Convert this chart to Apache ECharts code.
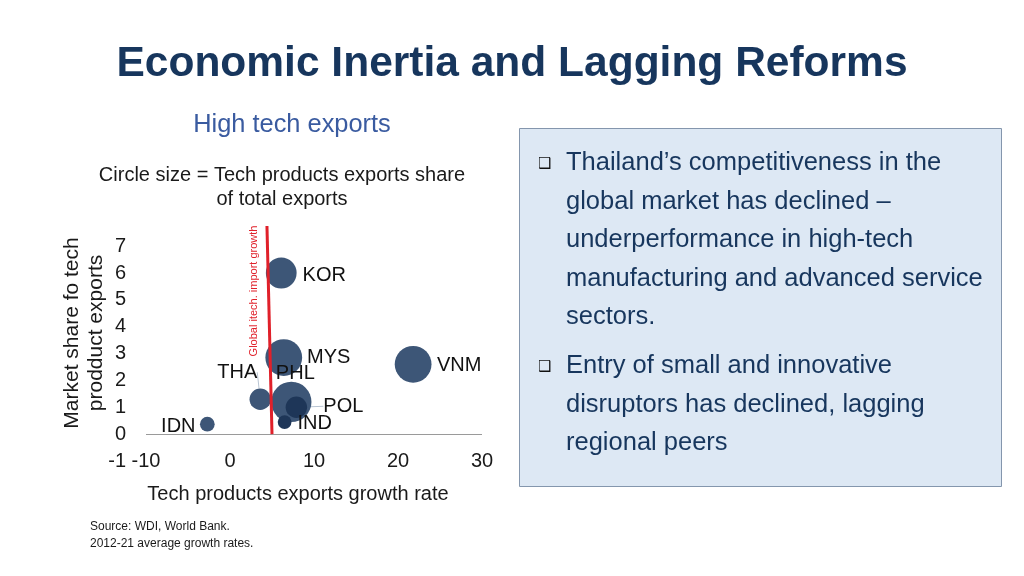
<!DOCTYPE html>
<html>
<head>
<meta charset="utf-8">
<script src="https://cdn.jsdelivr.net/npm/echarts@6/dist/echarts.min.js"></script>
<style>
html,body{margin:0;padding:0;background:#fff;}
#c{width:1024px;height:576px;}
</style>
</head>
<body>
<div id="c"></div>
<script>
// ---- data ----
const countries = ['KOR', 'MYS', 'VNM', 'THA', 'PHL', 'POL', 'IND', 'IDN'];
const growthRate = [6.1, 6.4, 21.8, 3.6, 7.3, 7.9, 6.5, -2.7];      // x: tech exports growth rate (%)
const marketShare = [6.0, 2.85, 2.6, 1.3, 1.2, 1.0, 0.45, 0.37];    // y: market share (%)
const techShare = [35, 50, 50, 17, 60, 17, 7, 8];                   // bubble: tech share of total exports (%)
const globalLine = [[4.4, 7.75], [5.0, 0]];                         // global tech import growth
const xTicks = [-10, 0, 10, 20, 30];
const yTicks = [-1, 0, 1, 2, 3, 4, 5, 6, 7];

// ---- styles (label offsets in px, colours) ----
const labelOffsets = {
  KOR: [43, 2], MYS: [45, 0], VNM: [46, 1], THA: [-23, -27],
  PHL: [4, -28], POL: [47, -1], IND: [30, 1], IDN: [-29, 2]
};
const withLine = { THA: true, PHL: true, POL: true };
const darkOnes = { POL: true, IND: true };

const bubbleData = countries.map((c, i) => ({
  name: c,
  value: [growthRate[i], marketShare[i], techShare[i]],
  itemStyle: { color: darkOnes[c] ? '#1e3658' : '#3d5677', opacity: 1 },
  labelLine: { show: !!withLine[c], lineStyle: { color: '#b8c4d2', width: 1, opacity: 1 } }
}));

const chart = echarts.init(document.getElementById('c'));
const FONT = 'Liberation Sans, Arial, sans-serif';

chart.setOption({
  animation: false,
  textStyle: { fontFamily: FONT },
  grid: { left: 146, right: 542, top: 226, bottom: 115 },
  xAxis: {
    type: 'value', min: -10, max: 30, interval: 10,
    axisLine: { show: false, onZero: false },
    axisTick: { show: false },
    splitLine: { show: false },
    axisLabel: {
      margin: -10, fontSize: 20, color: '#1a1a1a', fontFamily: FONT,
      formatter: v => xTicks.includes(v) ? String(v) : ''
    }
  },
  yAxis: {
    type: 'value', min: -1, max: 7.75, interval: 1,
    axisLine: { show: false },
    axisTick: { show: false },
    splitLine: { show: false },
    axisLabel: {
      margin: 20, fontSize: 20, color: '#1a1a1a', fontFamily: FONT,
      formatter: v => yTicks.includes(v) ? String(v) : ''
    }
  },
  series: [
    {
      type: 'scatter',
      data: bubbleData,
      symbolSize: v => 5.2 * Math.sqrt(v[2]),
      z: 2,
      itemStyle: { opacity: 1 },
      label: {
        show: true, position: 'inside', formatter: '{b}', opacity: 1,
        fontSize: 20, color: '#111111', fontFamily: FONT
      },
      labelLayout: p => {
        const o = labelOffsets[countries[p.dataIndex]];
        return { dx: o[0], dy: o[1] };
      },
      markLine: {
        silent: true, symbol: 'none', label: { show: false },
        lineStyle: { color: '#9a9a9a', width: 1, type: 'solid', opacity: 1 },
        data: [{ yAxis: 0 }]
      }
    },
    {
      type: 'line',
      data: globalLine,
      symbol: 'none',
      lineStyle: { color: '#e0202a', width: 3 },
      z: 5
    }
  ],
  graphic: [
    { type: 'text', x: 512, y: 64, style: { text: 'Economic Inertia and Lagging Reforms', font: 'bold 42.5px ' + FONT, fill: '#17365d', align: 'center', verticalAlign: 'middle' } },
    { type: 'text', x: 292, y: 125, style: { text: 'High tech exports', font: '25.4px ' + FONT, fill: '#3a5ba0', align: 'center', verticalAlign: 'middle' } },
    { type: 'text', x: 282, y: 163, style: { text: 'Circle size = Tech products exports share\nof total exports', font: '20px ' + FONT, fill: '#1a1a1a', align: 'center', verticalAlign: 'top', lineHeight: 24 } },
    { type: 'text', x: 84, y: 333, rotation: Math.PI / 2, style: { text: 'Market share fo tech\nprodduct exports', font: '21px ' + FONT, fill: '#1a1a1a', align: 'center', verticalAlign: 'middle', lineHeight: 24 } },
    { type: 'text', x: 254, y: 291, rotation: Math.PI / 2, style: { text: 'Global itech. import growth', font: '11px ' + FONT, fill: '#e0202a', align: 'center', verticalAlign: 'middle' } },
    { type: 'text', x: 298, y: 494, style: { text: 'Tech products exports growth rate', font: '20px ' + FONT, fill: '#1a1a1a', align: 'center', verticalAlign: 'middle' } },
    { type: 'text', x: 90, y: 527, style: { text: 'Source: WDI, World Bank.', font: '12px ' + FONT, fill: '#1a1a1a', verticalAlign: 'middle' } },
    { type: 'text', x: 90, y: 544, style: { text: '2012-21 average growth rates.', font: '12px ' + FONT, fill: '#1a1a1a', verticalAlign: 'middle' } },
    { type: 'rect', shape: { x: 519.5, y: 128.5, width: 482, height: 358 }, style: { fill: '#dde8f4', stroke: '#8496ad', lineWidth: 1 } },
    { type: 'text', x: 538, y: 164, style: { text: '❑', font: '15px DejaVu Sans', fill: '#111', verticalAlign: 'middle' } },
    { type: 'text', x: 538, y: 367, style: { text: '❑', font: '15px DejaVu Sans', fill: '#111', verticalAlign: 'middle' } },
    { type: 'text', x: 566, y: 143.75, style: { text: 'Thailand’s competitiveness in the\nglobal market has declined –\nunderperformance in high-tech\nmanufacturing and advanced service\nsectors.', font: '25.5px ' + FONT, fill: '#17365d', verticalAlign: 'top', lineHeight: 38.5 } },
    { type: 'text', x: 566, y: 346.75, style: { text: 'Entry of small and innovative\ndisruptors has declined, lagging\nregional peers', font: '25.5px ' + FONT, fill: '#17365d', verticalAlign: 'top', lineHeight: 38.5 } }
  ]
});
</script>
</body>
</html>
